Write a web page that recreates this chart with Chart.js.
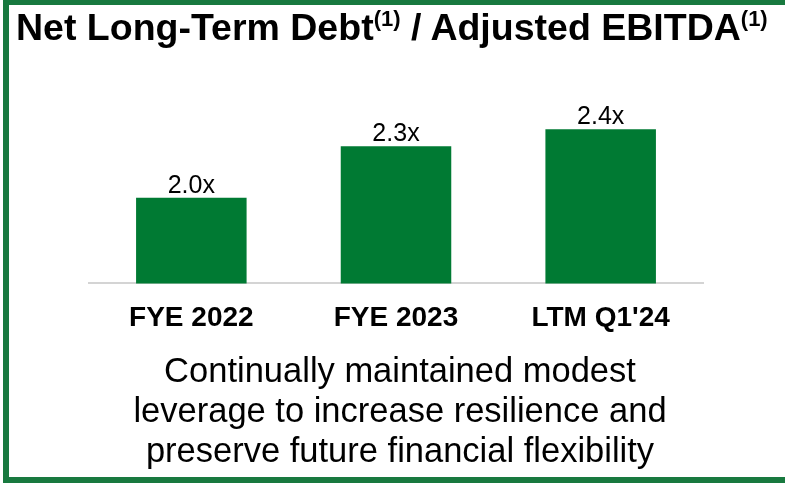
<!DOCTYPE html>
<html>
<head>
<meta charset="utf-8">
<script src="https://cdn.jsdelivr.net/npm/chart.js@4.4.0/dist/chart.umd.min.js"></script>
<style>
html,body{margin:0;padding:0;width:785px;height:483px;overflow:hidden;background:#fff;font-family:"Liberation Sans",Arial,sans-serif;}
.bar{position:absolute;background:#18793f;}
#fl{left:3px;top:0;width:6px;height:483px;}
#ft{left:3px;top:0;width:782px;height:5px;}
#fb{left:3px;top:477px;width:782px;height:6px;}
#chart{position:absolute;left:0;top:0;}
#title{position:absolute;left:16px;top:9px;font-weight:bold;font-size:37.5px;line-height:37.5px;white-space:nowrap;color:#000;}
#title .sup{font-size:22px;position:relative;top:-14px;}
#note{position:absolute;left:0;top:350px;width:800px;text-align:center;font-size:34.5px;line-height:40px;color:#000;}
</style>
</head>
<body>
<div class="bar" id="fl"></div>
<div class="bar" id="ft"></div>
<div class="bar" id="fb"></div>
<canvas id="chart" width="785" height="483"></canvas>
<div id="title">Net Long-Term Debt<span class="sup">(1)</span> / Adjusted EBITDA<span class="sup">(1)</span></div>
<div id="note">Continually maintained modest<br>leverage to increase resilience and<br>preserve future financial flexibility</div>
<script>
const categories = ['FYE 2022', 'FYE 2023', "LTM Q1'24"];
const leverage = [2.0, 2.3, 2.4];
const valueLabels = ['2.0x', '2.3x', '2.4x'];

const valueLabelPlugin = {
  id: 'valueLabels',
  afterDatasetsDraw(chart) {
    const ctx = chart.ctx;
    const meta = chart.getDatasetMeta(0);
    ctx.save();
    ctx.font = '25px "Liberation Sans", Arial, sans-serif';
    ctx.fillStyle = '#000';
    ctx.textAlign = 'center';
    ctx.textBaseline = 'alphabetic';
    meta.data.forEach((bar, i) => {
      ctx.fillText(valueLabels[i], bar.x, bar.y - 5);
    });
    ctx.restore();
  }
};

new Chart(document.getElementById('chart'), {
  type: 'bar',
  data: {
    labels: categories,
    datasets: [{
      data: leverage,
      backgroundColor: '#007a33',
      borderWidth: 0,
      barPercentage: 0.54,
      categoryPercentage: 1.0
    }]
  },
  options: {
    responsive: false,
    animation: false,
    devicePixelRatio: 1,
    layout: { padding: { left: 89, right: 82, top: 100, bottom: 130 } },
    plugins: { legend: { display: false }, tooltip: { enabled: false } },
    scales: {
      x: {
        grid: { display: false, drawTicks: false },
        border: { display: true, color: '#d4d4d4', width: 2 },
        ticks: {
          color: '#000',
          padding: 18,
          font: { family: '"Liberation Sans", Arial, sans-serif', size: 28, weight: 'bold' }
        }
      },
      y: {
        display: false,
        min: 1.5,
        max: 2.57
      }
    }
  },
  plugins: [valueLabelPlugin]
});
</script>
</body>
</html>
